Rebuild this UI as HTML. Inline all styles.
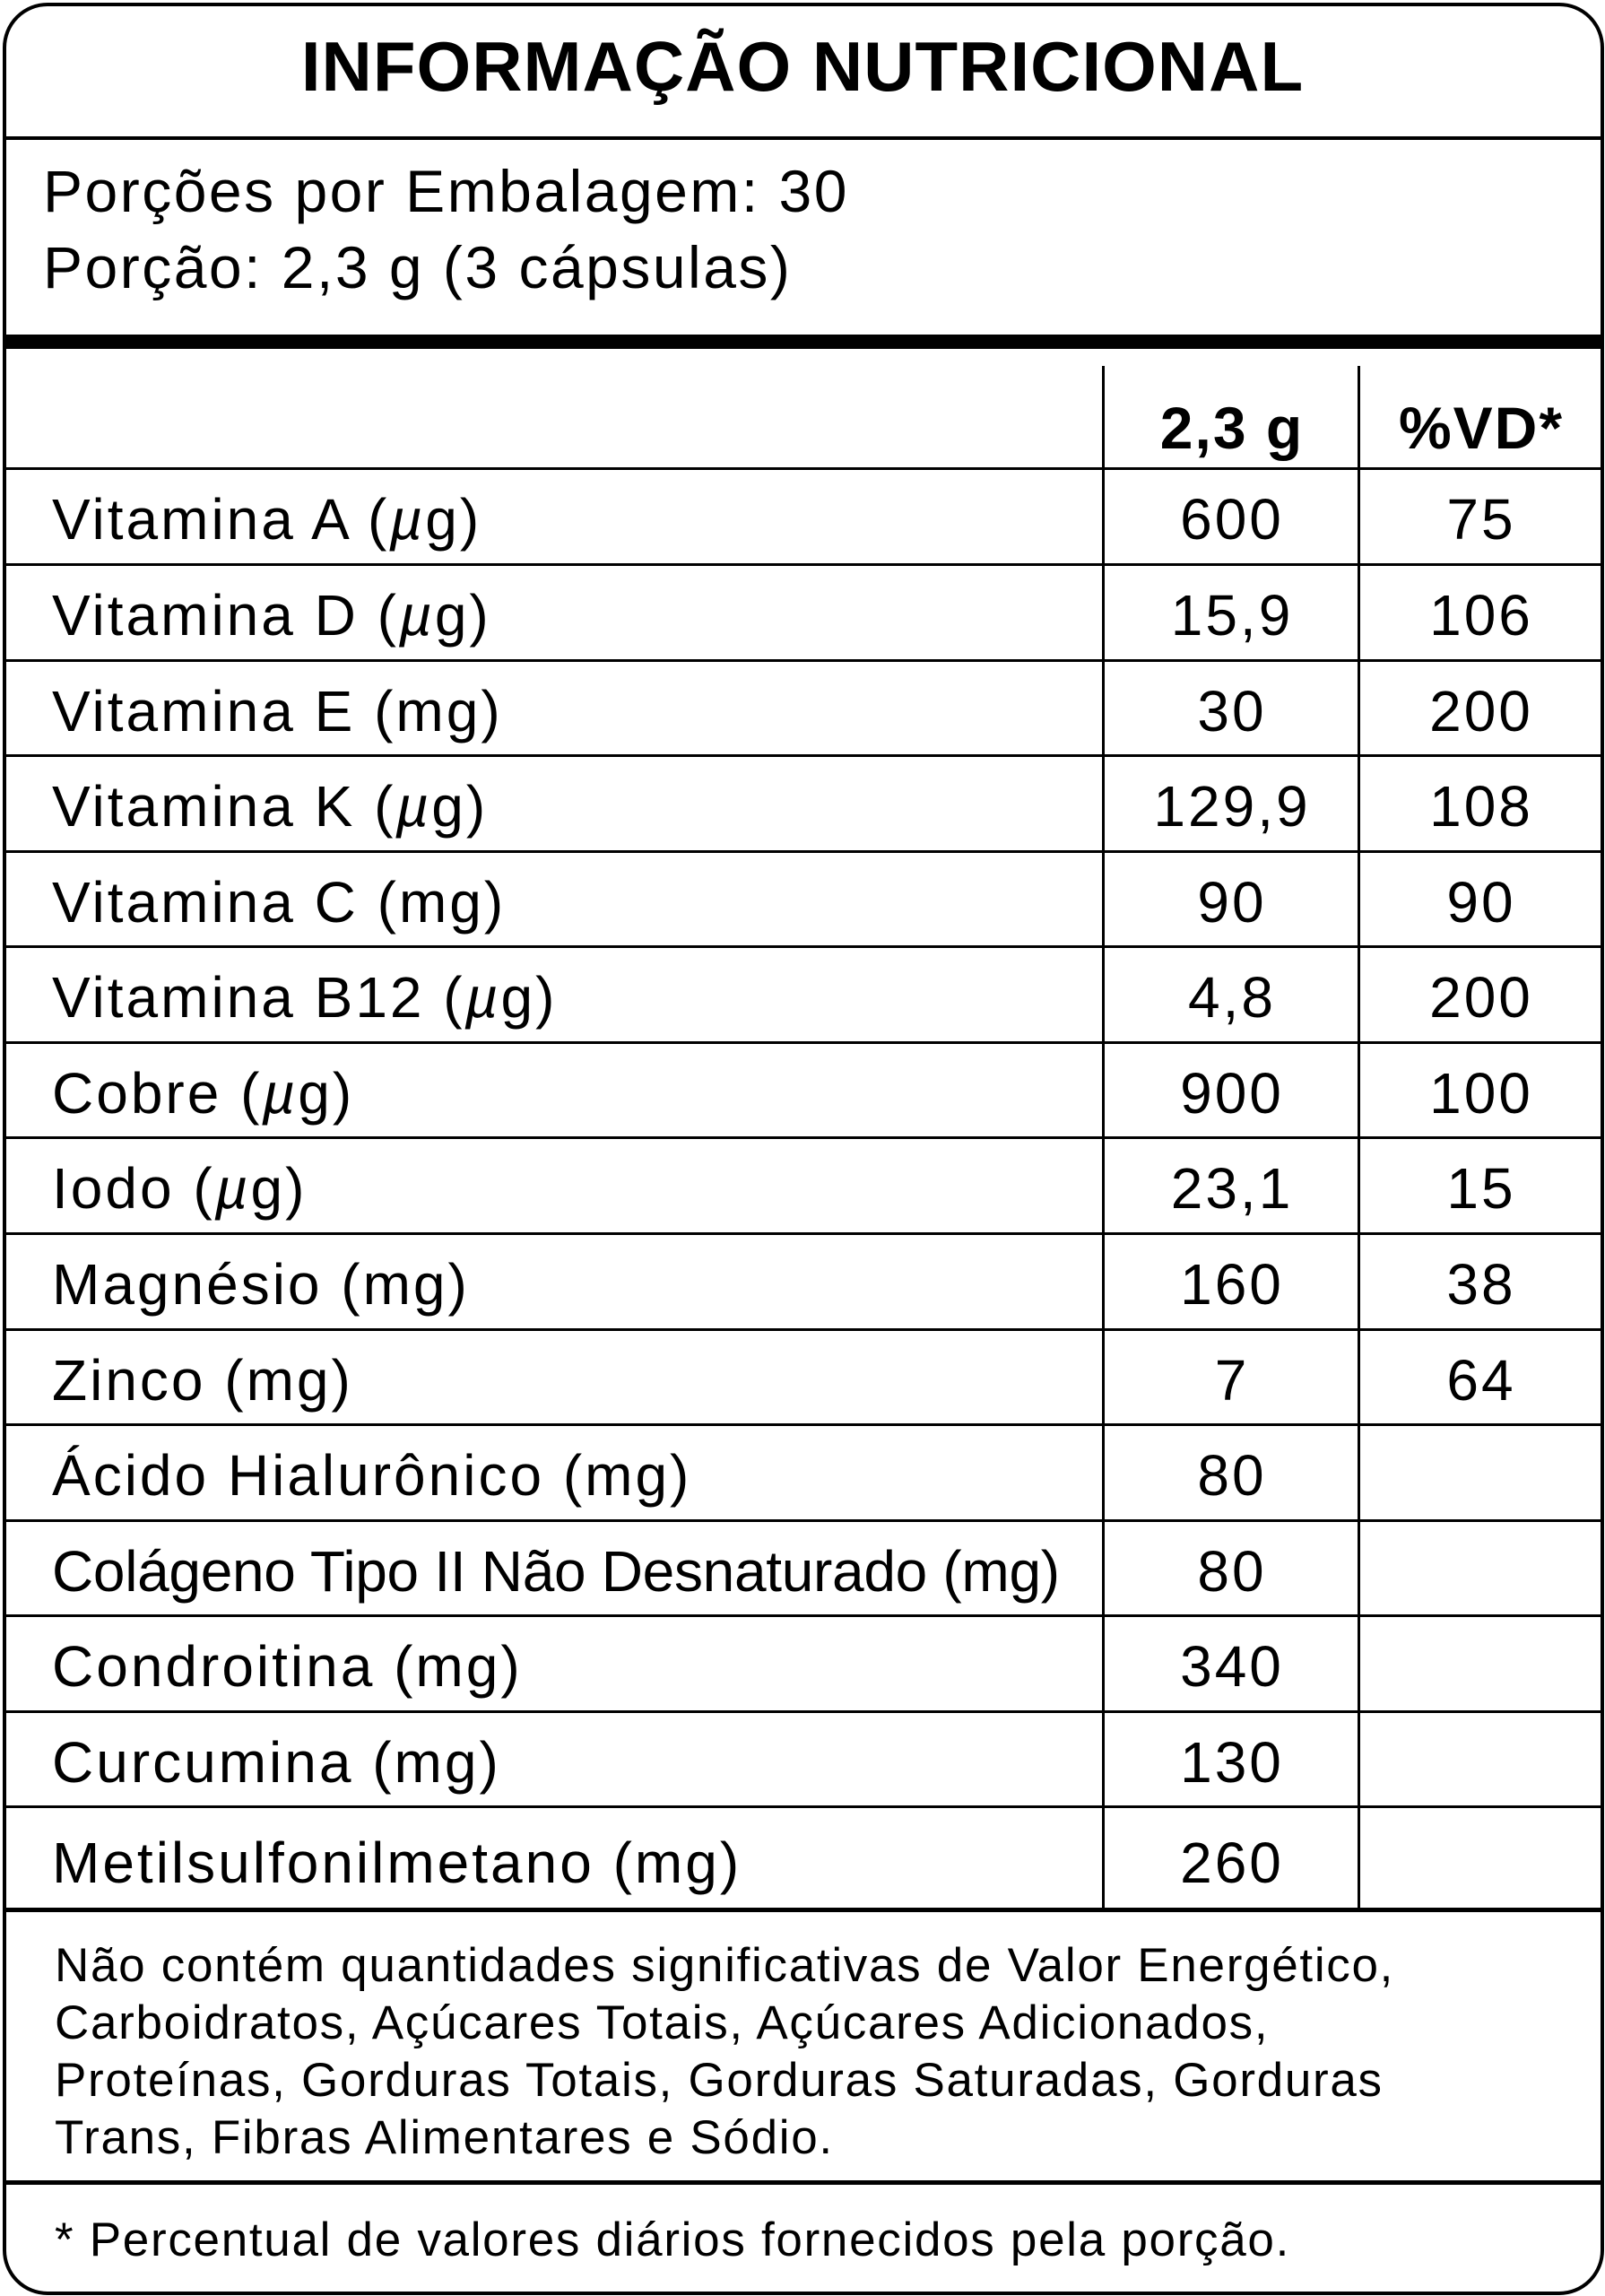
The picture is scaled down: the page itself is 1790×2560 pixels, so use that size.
<!DOCTYPE html>
<html><head><meta charset="utf-8"><style>
html,body{margin:0;padding:0;background:#fff;}
body{width:1790px;height:2560px;position:relative;overflow:hidden;font-family:"Liberation Sans",Arial,sans-serif;color:#000;}
.box{position:absolute;left:3px;top:3px;width:1778px;height:2548px;border:4px solid #000;border-radius:50px;}
.h{position:absolute;left:3px;width:1784px;background:#000;}
.v{position:absolute;width:3px;background:#000;top:408px;height:1721px;}
.t{position:absolute;white-space:nowrap;line-height:1;}
.row{position:absolute;left:0;width:1790px;height:106px;}
.row .n{position:absolute;left:58px;top:23px;font-size:64px;letter-spacing:3px;white-space:nowrap;line-height:1;}
.row .a{position:absolute;left:1233px;width:282px;text-align:center;top:23px;font-size:64px;letter-spacing:3px;line-height:1;}
.row .b{position:absolute;left:1518px;width:268px;text-align:center;top:23px;font-size:64px;letter-spacing:3px;line-height:1;}
</style></head><body>
<div class="box"></div>
<div class="t" style="left:0;width:1790px;text-align:center;top:35px;font-size:78px;font-weight:bold;letter-spacing:1px;">INFORMAÇÃO NUTRICIONAL</div>
<div class="h" style="top:152px;height:4px;"></div>
<div class="t" style="left:48px;top:180px;font-size:66px;letter-spacing:2.5px;">Porções por Embalagem: 30</div>
<div class="t" style="left:48px;top:265px;font-size:66px;letter-spacing:2.5px;">Porção: 2,3 g (3 cápsulas)</div>
<div class="h" style="top:373px;height:16px;"></div>
<div class="v" style="left:1229px;"></div>
<div class="v" style="left:1514px;"></div>
<div class="t" style="left:1233px;width:282px;text-align:center;top:444px;font-size:66px;font-weight:bold;letter-spacing:2px;">2,3 g</div>
<div class="t" style="left:1518px;width:268px;text-align:center;top:444px;font-size:66px;font-weight:bold;letter-spacing:2px;">%VD*</div>
<div class="h" style="top:521px;height:3px;"></div>

<div class="row" style="top:524px"><div class="n">Vitamina A (<i>µ</i>g)</div><div class="a">600</div><div class="b">75</div></div>
<div class="h" style="top:628px;height:3px;"></div>
<div class="row" style="top:631px"><div class="n">Vitamina D (<i>µ</i>g)</div><div class="a">15,9</div><div class="b">106</div></div>
<div class="h" style="top:735px;height:3px;"></div>
<div class="row" style="top:738px"><div class="n">Vitamina E (mg)</div><div class="a">30</div><div class="b">200</div></div>
<div class="h" style="top:841px;height:3px;"></div>
<div class="row" style="top:844px"><div class="n">Vitamina K (<i>µ</i>g)</div><div class="a">129,9</div><div class="b">108</div></div>
<div class="h" style="top:948px;height:3px;"></div>
<div class="row" style="top:951px"><div class="n">Vitamina C (mg)</div><div class="a">90</div><div class="b">90</div></div>
<div class="h" style="top:1054px;height:3px;"></div>
<div class="row" style="top:1057px"><div class="n">Vitamina B12 (<i>µ</i>g)</div><div class="a">4,8</div><div class="b">200</div></div>
<div class="h" style="top:1161px;height:3px;"></div>
<div class="row" style="top:1164px"><div class="n">Cobre (<i>µ</i>g)</div><div class="a">900</div><div class="b">100</div></div>
<div class="h" style="top:1267px;height:3px;"></div>
<div class="row" style="top:1270px"><div class="n">Iodo (<i>µ</i>g)</div><div class="a">23,1</div><div class="b">15</div></div>
<div class="h" style="top:1374px;height:3px;"></div>
<div class="row" style="top:1377px"><div class="n">Magnésio (mg)</div><div class="a">160</div><div class="b">38</div></div>
<div class="h" style="top:1481px;height:3px;"></div>
<div class="row" style="top:1484px"><div class="n">Zinco (mg)</div><div class="a">7</div><div class="b">64</div></div>
<div class="h" style="top:1587px;height:3px;"></div>
<div class="row" style="top:1590px"><div class="n">Ácido Hialurônico (mg)</div><div class="a">80</div><div class="b"></div></div>
<div class="h" style="top:1694px;height:3px;"></div>
<div class="row" style="top:1697px"><div class="n" style="letter-spacing:-0.3px;">Colágeno Tipo II Não Desnaturado (mg)</div><div class="a">80</div><div class="b"></div></div>
<div class="h" style="top:1800px;height:3px;"></div>
<div class="row" style="top:1803px"><div class="n">Condroitina (mg)</div><div class="a">340</div><div class="b"></div></div>
<div class="h" style="top:1907px;height:3px;"></div>
<div class="row" style="top:1910px"><div class="n">Curcumina (mg)</div><div class="a">130</div><div class="b"></div></div>
<div class="h" style="top:2013px;height:3px;"></div>
<div class="row" style="top:2022px"><div class="n">Metilsulfonilmetano (mg)</div><div class="a">260</div><div class="b"></div></div>
<div class="h" style="top:2127px;height:5px;"></div>

<div class="t" style="left:61px;top:2160px;font-size:53px;letter-spacing:1.7px;line-height:64px;white-space:normal;width:1700px;">Não contém quantidades significativas de Valor Energético,<br>Carboidratos, Açúcares Totais, Açúcares Adicionados,<br>Proteínas, Gorduras Totais, Gorduras Saturadas, Gorduras<br>Trans, Fibras Alimentares e Sódio.</div>
<div class="h" style="top:2431px;height:5px;"></div>
<div class="t" style="left:61px;top:2471px;font-size:53px;letter-spacing:1.7px;">* Percentual de valores diários fornecidos pela porção.</div>
</body></html>
